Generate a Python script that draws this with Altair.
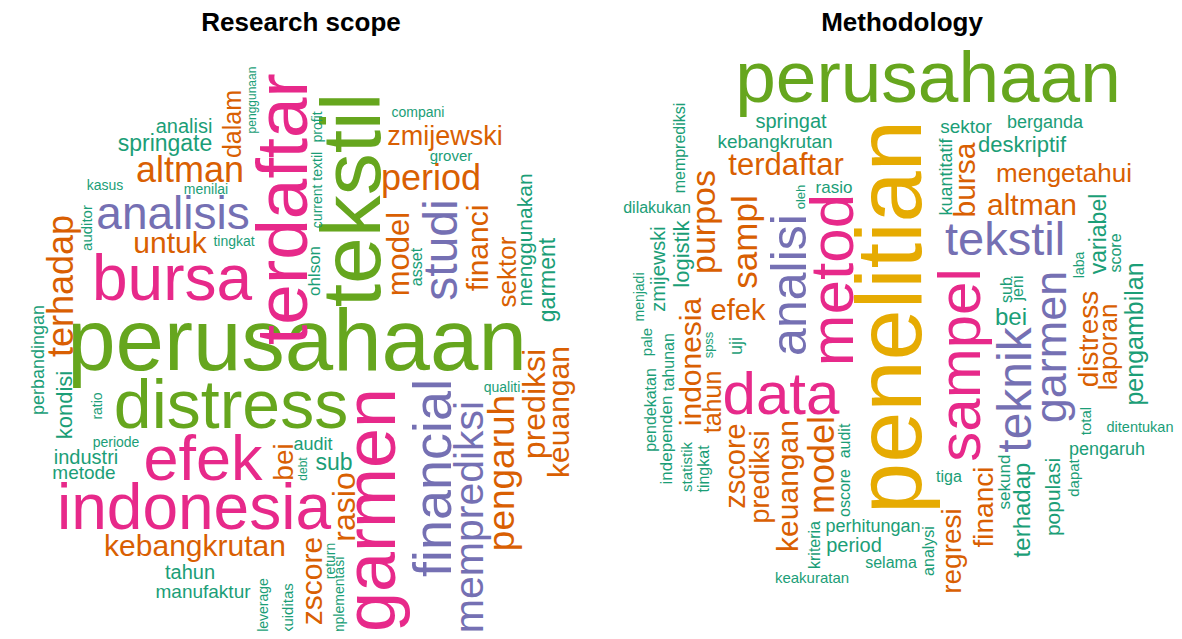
import altair as alt
import pandas as pd

# ---------------- Research scope (left cloud) ----------------
L_words = ["perusahaan", "tekstil", "terdaftar", "bursa", "analisis", "analisi", "springate", "dalam",
           "penggunaan", "altman", "kasus", "menilai", "untuk", "tingkat", "auditor", "terhadap",
           "perbandingan", "kondisi", "ratio", "periode", "industri", "metode", "efek", "indonesia",
           "kebangkrutan", "tahun", "manufaktur", "leverage", "likuiditas", "implementasi", "return",
           "debt", "audit", "sub", "bei", "zscore", "rasio", "garmen", "distress", "financial",
           "memprediksi", "pengaruh", "prediksi", "keuangan", "qualiti", "sektor", "menggunakan",
           "garment", "financi", "studi", "model", "asset", "ohlson", "current textil", "profit",
           "compani", "zmijewski", "grover", "period"]
L_freq = [87, 84, 73, 64, 46, 20, 23, 25,
          12, 36, 14, 14, 30, 14, 15, 36,
          18, 22, 14, 14, 20, 19, 63, 64,
          30, 20, 19, 14, 15, 14, 14,
          12, 18, 23, 28, 30, 32, 72, 68, 54,
          41, 37, 32, 30, 14, 26, 21,
          23, 30, 48, 31, 16, 17, 14, 14,
          14, 27, 15, 36]
L_group = ["G", "G", "K", "K", "P", "T", "T", "O",
           "T", "O", "T", "T", "O", "T", "T", "O",
           "T", "T", "T", "T", "T", "T", "K", "K",
           "O", "T", "T", "T", "T", "T", "T",
           "T", "T", "T", "O", "O", "O", "K", "G", "P",
           "P", "O", "O", "O", "T", "O", "T",
           "T", "O", "P", "O", "T", "T", "T", "T",
           "T", "O", "T", "O"]
# layout (cloud placement)
L_x = [297, 380, 307, 172, 173, 184, 165, 241,
       256, 190, 105, 206, 170, 234, 92, 73,
       44, 72, 102, 116, 86, 84, 203, 194,
       195, 190, 203, 268, 293, 344, 335,
       307, 313, 334, 293, 322, 355, 395, 231, 451,
       483, 514, 545, 569, 502, 516, 532,
       555, 488, 457, 409, 422, 320, 322, 322,
       418, 445, 451, 431]
L_y = [370, 200, 209, 300, 229, 133, 151, 124,
       100, 182, 190, 194, 253, 246, 228, 286,
       360, 405, 406, 447, 464, 479, 480, 529,
       556, 579, 598, 605, 612, 598, 561,
       469, 450, 470, 462, 581, 507, 510, 428, 478,
       517, 473, 404, 412, 392, 272, 240,
       280, 248, 250, 254, 267, 271, 190, 127,
       117, 145, 161, 190]
L_vert = [0, 1, 1, 0, 0, 0, 0, 1,
          1, 0, 0, 0, 0, 0, 1, 1,
          1, 1, 1, 0, 0, 0, 0, 0,
          0, 0, 0, 1, 1, 1, 1,
          1, 0, 0, 1, 1, 1, 1, 0, 1,
          1, 1, 1, 1, 0, 1, 1,
          1, 1, 1, 1, 1, 1, 1, 1,
          0, 0, 0, 0]

# ---------------- Methodology (right cloud) ----------------
R_words = ["perusahaan", "penelitian", "metod", "sampel", "teknik", "garmen", "tekstil", "bursa",
           "kuantitatif", "sektor", "berganda", "deskriptif", "mengetahui", "altman", "variabel",
           "score", "laba", "pengambilan", "distress", "laporan", "jeni", "sub", "bei", "ditentukan",
           "total", "pengaruh", "dapat", "populasi", "terhadap", "sekund", "financi", "regresi",
           "tiga", "analysi", "selama", "perhitungan", "period", "keakuratan", "kriteria", "oscore",
           "audit", "model", "keuangan", "prediksi", "zscore", "tingkat", "statistik", "independen",
           "tahunan", "pendekatan", "pale", "menjadi", "zmijewski", "logistik", "dilakukan",
           "memprediksi", "purpos", "sampl", "terdaftar", "kebangkrutan", "springat", "rasio",
           "oleh", "analisi", "data", "efek", "indonesia", "tahun", "spss", "uji"]
R_freq = [73, 92, 62, 60, 48, 45, 47, 30,
          18, 19, 18, 22, 26, 30, 23,
          16, 14, 25, 28, 26, 16, 16, 24, 14.5,
          15, 18, 15, 21, 24, 17, 28, 28,
          16, 16, 16, 18, 20, 15, 16, 16,
          16, 36, 30, 27, 29, 16, 15, 17,
          16, 16, 15, 14, 20, 22, 16,
          16, 34, 35, 31, 19, 20, 17,
          13, 50, 60, 29, 30, 25, 13, 18]
R_group = ["G", "Y", "K", "K", "P", "P", "P", "O",
           "T", "T", "T", "T", "O", "O", "T",
           "T", "T", "T", "O", "O", "T", "T", "T", "T",
           "T", "T", "T", "T", "T", "T", "O", "O",
           "T", "T", "T", "T", "T", "T", "T", "T",
           "T", "O", "O", "O", "O", "T", "T", "T",
           "T", "T", "T", "T", "T", "T", "T",
           "T", "O", "O", "O", "T", "T", "T",
           "T", "P", "K", "O", "O", "O", "T", "T"]
R_x = [928, 921, 853, 980, 1031, 1066, 1005, 975,
       952, 966, 1045, 1022, 1064, 1032, 1106,
       1121, 1084, 1143, 1098, 1117, 1023, 1012, 1011, 1140,
       1091, 1107, 1079, 1060, 1030, 1010, 993, 961,
       949, 934, 891, 873, 854, 812, 820, 850,
       850, 834, 798, 769, 745, 709, 692, 672,
       674, 656, 652, 644, 665, 689, 657,
       685, 715, 757, 786, 775, 791, 834,
       805, 806, 781, 738, 701, 721, 713, 742]
R_y = [102, 317, 280, 365, 390, 347, 255, 180,
       177, 133, 128, 152, 182, 215, 234,
       253, 265, 334, 339, 347, 288, 290, 325, 432,
       421, 455, 478, 497, 510, 482, 507, 551,
       482, 551, 568, 532, 552, 583, 545, 493,
       441, 465, 486, 477, 466, 469, 467, 440,
       362, 410, 342, 297, 269, 254, 213,
       148, 222, 242, 175, 148, 128, 193,
       197, 285, 414, 320, 362, 402, 345, 346]
R_vert = [0, 1, 1, 1, 1, 1, 0, 1,
          1, 0, 0, 0, 0, 0, 1,
          1, 1, 1, 1, 1, 1, 1, 0, 0,
          1, 0, 1, 1, 1, 1, 1, 1,
          0, 1, 0, 0, 0, 0, 1, 1,
          1, 1, 1, 1, 1, 1, 1, 1,
          1, 1, 1, 1, 1, 1, 0,
          1, 1, 1, 0, 0, 0, 0,
          1, 1, 0, 0, 1, 1, 1, 1]

titles = ["Research scope", "Methodology"]
title_x = [301, 902]
title_y = [31, 31]

palette = {"T": "#1b9e77", "O": "#d95f02", "P": "#7570b3",
           "K": "#e7298a", "G": "#66a61e", "Y": "#e6ab02"}

rows = []
for words, freq, grp, xs, ys, vs in [(L_words, L_freq, L_group, L_x, L_y, L_vert),
                                     (R_words, R_freq, R_group, R_x, R_y, R_vert)]:
    for w, f, g, x, y, v in zip(words, freq, grp, xs, ys, vs):
        rows.append({"word": w, "size": f, "x": x, "y": y,
                     "angle": 270 if v else 0, "col": palette[g]})
df = pd.DataFrame(rows)
tdf = pd.DataFrame({"t": titles, "x": title_x, "y": title_y})

xs = alt.Scale(domain=[8, 1174], nice=False, zero=False)
ys = alt.Scale(domain=[8, 631], nice=False, zero=False, reverse=True)

words_layer = alt.Chart(df).mark_text(
    font="Liberation Sans", align="center", baseline="alphabetic"
).encode(
    x=alt.X("x:Q", scale=xs, axis=None),
    y=alt.Y("y:Q", scale=ys, axis=None),
    text="word:N",
    size=alt.Size("size:Q", scale=None, legend=None),
    angle=alt.Angle("angle:Q", scale=None),
    color=alt.Color("col:N", scale=None, legend=None),
)

title_layer = alt.Chart(tdf).mark_text(
    font="Liberation Sans", fontWeight="bold", fontSize=26, align="center",
    baseline="alphabetic", color="#000000"
).encode(
    x=alt.X("x:Q", scale=xs, axis=None),
    y=alt.Y("y:Q", scale=ys, axis=None),
    text="t:N",
)

chart = alt.layer(words_layer, title_layer).properties(
    width=1166, height=623,
    autosize=alt.AutoSizeParams(type="none"),
    padding=0,
).configure_view(stroke=None)

chart.save("out.html", embed_options={"renderer": "svg", "actions": False})
